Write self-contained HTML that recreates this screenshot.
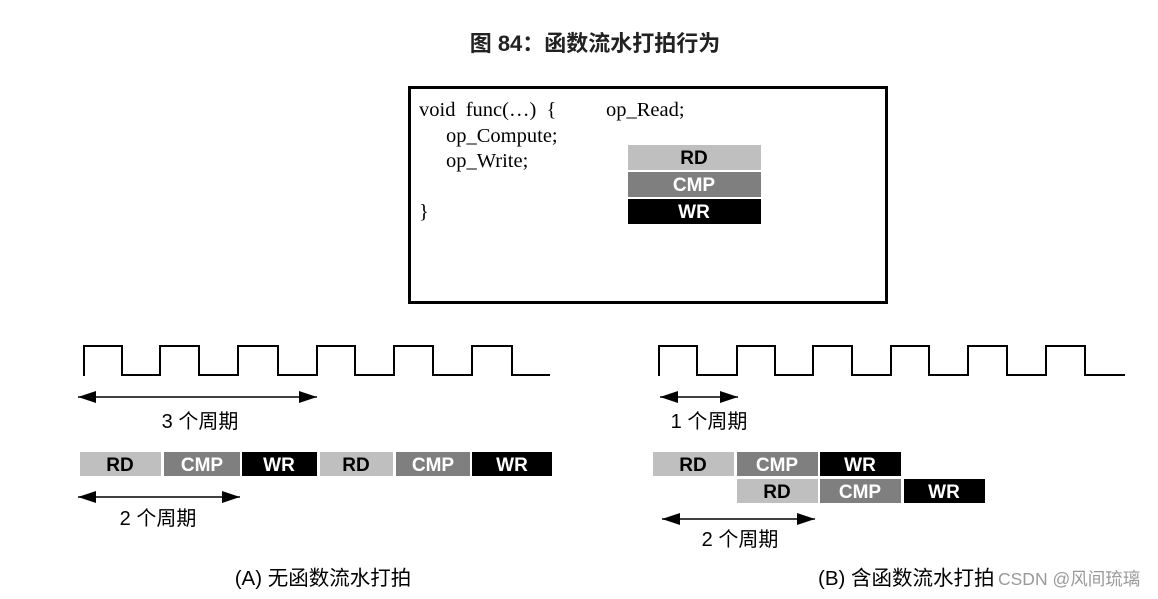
<!DOCTYPE html>
<html><head><meta charset="utf-8"><style>
html,body{margin:0;padding:0;background:#fff;}
svg{display:block;}
.cjk{font-family:"Liberation Sans","Noto Sans CJK SC",sans-serif;}
.blk{font-family:"Liberation Sans",sans-serif;font-weight:bold;font-size:19px;text-anchor:middle;}
.code{font-family:"Liberation Serif",serif;font-size:20.5px;fill:#000;}
</style></head><body>
<svg width="1158" height="599" viewBox="0 0 1158 599" xmlns="http://www.w3.org/2000/svg">
<defs>
<marker id="b" markerWidth="18" markerHeight="12" refX="18" refY="6" orient="auto-start-reverse" markerUnits="userSpaceOnUse" viewBox="0 0 18 12"><path d="M0,0 L18,6 L0,12 z" fill="#000"/></marker>
</defs>
<text x="595" y="51" class="cjk" font-size="22" font-weight="bold" text-anchor="middle" fill="#222">图 84：函数流水打拍行为</text>
<rect x="409.5" y="87.5" width="477" height="215" fill="none" stroke="#000" stroke-width="3"/>
<text x="419" y="116" class="code">void&#160; func(…)&#160; {</text>
<text x="606" y="116" class="code">op_Read;</text>
<text x="446" y="142" class="code">op_Compute;</text>
<text x="446" y="167" class="code">op_Write;</text>
<text x="419" y="218" class="code">}</text>
<rect x="628" y="145" width="133" height="25" fill="#bfbfbf"/>
<rect x="628" y="172" width="133" height="25" fill="#7f7f7f"/>
<rect x="628" y="199" width="133" height="25" fill="#000"/>
<text x="694" y="164" class="blk" fill="#000">RD</text>
<text x="694" y="191" class="blk" fill="#fff">CMP</text>
<text x="694" y="218" class="blk" fill="#fff">WR</text>

<path d="M84,376 V346 H122 V375 H160 V346 H199 V375 H238 V346 H278 V375 H317 V346 H355 V375 H394 V346 H433 V375 H472 V346 H512 V375 H550" fill="none" stroke="#000" stroke-width="2"/>
<path d="M659,376 V346 H697 V375 H737 V346 H775 V375 H813 V346 H852 V375 H891 V346 H929 V375 H968 V346 H1007 V375 H1046 V346 H1085 V375 H1125" fill="none" stroke="#000" stroke-width="2"/>

<line x1="78" y1="397" x2="317" y2="397" stroke="#000" stroke-width="1.5" marker-start="url(#b)" marker-end="url(#b)"/>
<text x="200" y="428" class="cjk" font-size="20" text-anchor="middle">3 个周期</text>
<line x1="78" y1="497" x2="240" y2="497" stroke="#000" stroke-width="1.5" marker-start="url(#b)" marker-end="url(#b)"/>
<text x="158" y="525" class="cjk" font-size="20" text-anchor="middle">2 个周期</text>

<line x1="660" y1="397" x2="738" y2="397" stroke="#000" stroke-width="1.5" marker-start="url(#b)" marker-end="url(#b)"/>
<text x="709" y="428" class="cjk" font-size="20" text-anchor="middle">1 个周期</text>
<line x1="662" y1="519" x2="815" y2="519" stroke="#000" stroke-width="1.5" marker-start="url(#b)" marker-end="url(#b)"/>
<text x="740" y="546" class="cjk" font-size="20" text-anchor="middle">2 个周期</text>

<g>
<rect x="80" y="452" width="81" height="24" fill="#bfbfbf"/>
<rect x="164" y="452" width="76" height="24" fill="#7f7f7f"/>
<rect x="242" y="452" width="75" height="24" fill="#000"/>
<rect x="320" y="452" width="73" height="24" fill="#bfbfbf"/>
<rect x="396" y="452" width="74" height="24" fill="#7f7f7f"/>
<rect x="472" y="452" width="80" height="24" fill="#000"/>
<text x="120" y="471" class="blk" fill="#000">RD</text>
<text x="202" y="471" class="blk" fill="#fff">CMP</text>
<text x="279" y="471" class="blk" fill="#fff">WR</text>
<text x="356" y="471" class="blk" fill="#000">RD</text>
<text x="433" y="471" class="blk" fill="#fff">CMP</text>
<text x="512" y="471" class="blk" fill="#fff">WR</text>
</g>
<g>
<rect x="653" y="452" width="81" height="24" fill="#bfbfbf"/>
<rect x="737" y="452" width="81" height="24" fill="#7f7f7f"/>
<rect x="820" y="452" width="81" height="24" fill="#000"/>
<rect x="737" y="479" width="81" height="24" fill="#bfbfbf"/>
<rect x="820" y="479" width="81" height="24" fill="#7f7f7f"/>
<rect x="904" y="479" width="81" height="24" fill="#000"/>
<text x="693" y="471" class="blk" fill="#000">RD</text>
<text x="777" y="471" class="blk" fill="#fff">CMP</text>
<text x="860" y="471" class="blk" fill="#fff">WR</text>
<text x="777" y="498" class="blk" fill="#000">RD</text>
<text x="860" y="498" class="blk" fill="#fff">CMP</text>
<text x="944" y="498" class="blk" fill="#fff">WR</text>
</g>

<text x="323" y="585" class="cjk" font-size="20.5" text-anchor="middle">(A) 无函数流水打拍</text>
<text x="818" y="585" class="cjk" font-size="20.5">(B) 含函数流水打拍</text>
<text x="998" y="585" class="cjk" font-size="17.5" fill="#999">CSDN @风间琉璃</text>
</svg>
</body></html>
